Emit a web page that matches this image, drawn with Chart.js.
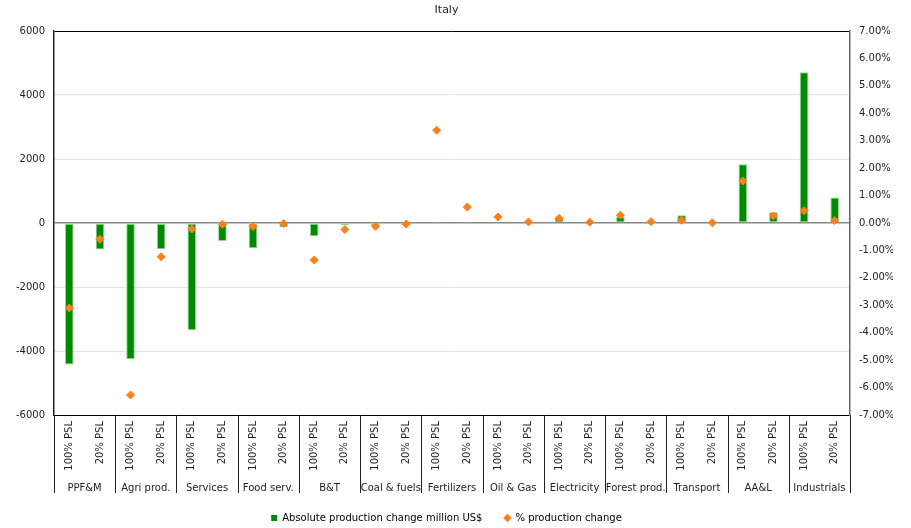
<!DOCTYPE html>
<html>
<head>
<meta charset="utf-8">
<script src="https://cdn.jsdelivr.net/npm/chart.js@4"></script>
<style>
  html, body { margin: 0; padding: 0; background: #fff; }
  #wrap { width: 911px; height: 528px; }
</style>
</head>
<body>
<div id="wrap"><canvas id="chart" width="911" height="528"></canvas></div>
<script>
const sectors = ["PPF&M", "Agri prod.", "Services", "Food serv.", "B&T", "Coal & fuels", "Fertilizers",
  "Oil & Gas", "Electricity", "Forest prod.", "Transport", "AA&L", "Industrials"];
const scenarios = ["100% PSL", "20% PSL"];

// million US$, one value per sector/scenario pair
const absoluteChange = [-4425, -830, -4260, -820, -3350, -560, -790, -135, -415, -72, -83, -10, 10, 5,
  30, 5, 170, 10, 190, 10, 240, 8, 1835, 335, 4710, 795];
// percent
const percentChange = [-3.10, -0.59, -6.27, -1.23, -0.22, -0.05, -0.13, -0.02, -1.35, -0.24, -0.12, -0.04,
  3.38, 0.58, 0.22, 0.04, 0.17, 0.03, 0.28, 0.05, 0.10, 0.01, 1.53, 0.26, 0.45, 0.09];

const leftTicks = [-6000, -4000, -2000, 0, 2000, 4000, 6000];
const rightTicks = [-7, -6, -5, -4, -3, -2, -1, 0, 1, 2, 3, 4, 5, 6, 7];

const labels = sectors.flatMap(() => scenarios);
const FONT = "'DejaVu Sans', Verdana, sans-serif";
const GREEN = "#008a00";
const ORANGE = "#ff7f1a";

// draws the sector row under the rotated scenario labels
const sectorAxis = {
  id: "sectorAxis",
  afterDraw(chart) {
    const { ctx, scales: { x }, chartArea } = chart;
    const half = (x.getPixelForValue(1) - x.getPixelForValue(0)) / 2;
    ctx.save();
    ctx.strokeStyle = "#222";
    ctx.lineWidth = 1;
    for (let k = 0; k <= sectors.length; k++) {
      const px = Math.round(x.getPixelForValue(k * 2) - half) + 0.5;
      ctx.beginPath();
      ctx.moveTo(px, chartArea.bottom);
      ctx.lineTo(px, chartArea.bottom + 78);
      ctx.stroke();
    }
    ctx.fillStyle = "#222";
    ctx.font = "10px " + FONT;
    ctx.textAlign = "center";
    ctx.textBaseline = "middle";
    sectors.forEach((s, k) => {
      const cx = (x.getPixelForValue(k * 2) + x.getPixelForValue(k * 2 + 1)) / 2;
      ctx.fillText(s, cx, chartArea.bottom + 73);
    });
    ctx.restore();
  }
};

new Chart(document.getElementById("chart"), {
  data: {
    labels: labels,
    datasets: [
      {
        type: "line",
        label: "% production change",
        data: percentChange,
        yAxisID: "y1",
        showLine: false,
        pointStyle: "rectRot",
        pointRadius: 4,
        pointBackgroundColor: ORANGE,
        pointBorderColor: ORANGE,
        backgroundColor: ORANGE,
        borderColor: ORANGE,
        order: 0
      },
      {
        type: "bar",
        label: "Absolute production change million US$",
        data: absoluteChange,
        yAxisID: "y",
        backgroundColor: GREEN,
        borderColor: "#8fd88f",
        borderWidth: 1,
        borderSkipped: false,
        categoryPercentage: 1,
        barPercentage: 0.28,
        order: 1
      }
    ]
  },
  options: {
    responsive: false,
    animation: false,
    layout: { padding: { left: 0, right: 18, top: 0, bottom: -5 } },
    plugins: {
      title: {
        display: true,
        text: "Italy",
        color: "#222",
        font: { family: FONT, size: 11, weight: "normal" },
        padding: { top: 3.5, bottom: 14.3 }
      },
      legend: {
        position: "bottom",
        labels: {
          usePointStyle: true,
          boxWidth: 6,
          boxHeight: 6,
          padding: 22,
          color: "#222",
          font: { family: FONT, size: 10 },
          generateLabels(chart) {
            return chart.data.datasets.slice().reverse().map((d) => ({
              text: d.label,
              fillStyle: d.type === "bar" ? GREEN : ORANGE,
              strokeStyle: d.type === "bar" ? GREEN : ORANGE,
              lineWidth: 0,
              pointStyle: d.type === "bar" ? "rect" : "rectRot",
              datasetIndex: chart.data.datasets.indexOf(d)
            }));
          }
        }
      },
      tooltip: { enabled: false }
    },
    scales: {
      x: {
        grid: { display: false, drawTicks: false },
        border: { display: true, color: "#000", width: 1 },
        ticks: {
          autoSkip: false,
          minRotation: 90,
          maxRotation: 90,
          padding: 6,
          color: "#222",
          font: { family: FONT, size: 10 }
        },
        afterFit(scale) { scale.height = 76; }
      },
      y: {
        position: "left",
        min: -6000,
        max: 6000,
        afterBuildTicks(scale) { scale.ticks = leftTicks.map((v) => ({ value: v })); },
        grid: {
          drawTicks: false,
          color(c) {
            const v = c.tick && c.tick.value;
            if (v === 6000 || v === -6000) return "#000";
            if (v === 0) return "#888";
            return "#e2e2e2";
          },
          lineWidth(c) { return c.tick && c.tick.value === 0 ? 1.5 : 1; }
        },
        border: { display: true, color: "#222", width: 1.5 },
        ticks: {
          padding: 9,
          color: "#222",
          font: { family: FONT, size: 10 },
          callback: (v) => String(v)
        },
        afterFit(scale) { scale.width = 54; }
      },
      y1: {
        position: "right",
        min: -7,
        max: 7,
        afterBuildTicks(scale) { scale.ticks = rightTicks.map((v) => ({ value: v })); },
        grid: { display: false, drawTicks: false },
        border: { display: true, color: "#666", width: 1.5 },
        ticks: {
          padding: 9,
          color: "#222",
          font: { family: FONT, size: 10 },
          callback: (v) => v.toFixed(2) + "%"
        },
        afterFit(scale) { scale.width = 43; }
      }
    }
  },
  plugins: [sectorAxis]
});
</script>
</body>
</html>
